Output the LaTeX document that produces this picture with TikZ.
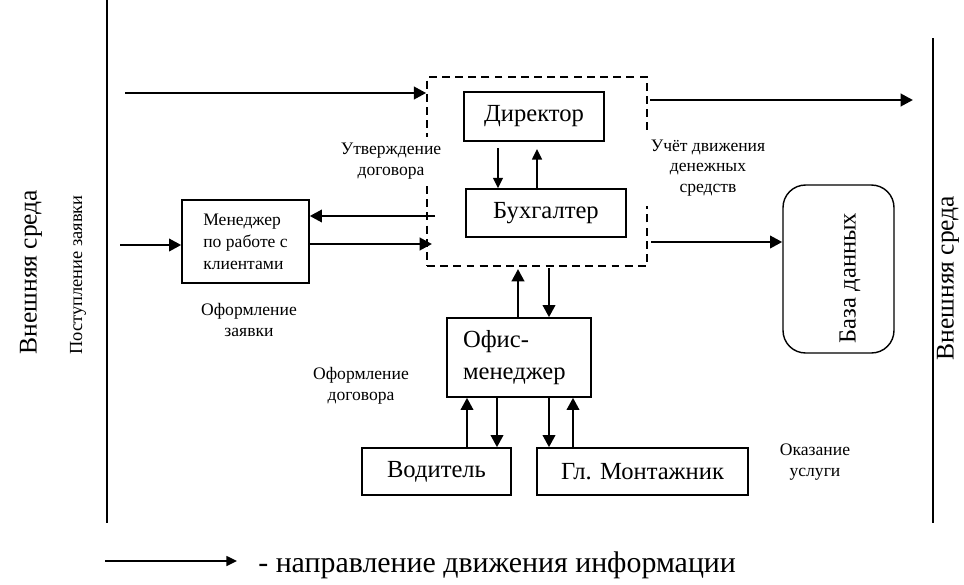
\documentclass[tikz,border=0pt]{standalone}
\usepackage{fontspec}
\setmainfont{Liberation Serif}
\usetikzlibrary{arrows.meta}

\tikzset{
    box/.style={draw, line width=0.8pt, inner sep=0pt, font=\fontsize{14}{17}\selectfont},
    note/.style={fill=white, align=center, inner sep=3.5pt, font=\fontsize{10}{12}\selectfont},
    flow/.style={line width=1.6pt, -{Triangle[length=7pt,width=7pt]}},
    thinflow/.style={line width=1.2pt, -{Triangle[length=6pt,width=5.5pt]}},
    border/.style={line width=1.6pt},
}

\begin{document}
\begin{tikzpicture}[x=0.02cm, y=-0.02cm]
    \useasboundingbox (0,0) rectangle (964,585);

    % environment borders
    \draw[border] (107,0) -- (107,523);
    \draw[border] (933,38) -- (933,523);
    \node[rotate=90, font=\fontsize{14.5}{17}\selectfont] (envL) at (31,272) {Внешняя среда};
    \node[rotate=90, font=\fontsize{14.5}{17}\selectfont] (envR) at (948,278) {Внешняя среда};
    \node[rotate=90, font=\fontsize{10.5}{12}\selectfont] (zayavka) at (78,275) {Поступление заявки};

    % management group
    \node[draw, dashed, dash pattern=on 4.5pt off 3pt, line width=0.9pt,
          minimum width=4.4cm, minimum height=3.78cm] (grp) at (537,171.5) {};
    \node[box, minimum width=2.8cm, minimum height=0.98cm] (dir) at (534,116.5) {Директор};
    \node[box, minimum width=3.2cm, minimum height=0.96cm] (buh) at (546,213) {Бухгалтер};

    \node[box, minimum width=2.54cm, minimum height=1.66cm, align=left,
          font=\fontsize{10}{12.5}\selectfont]
          (mgr) at (245.5,241.5) {Менеджер\\по работе с\\клиентами};
    \node[box, minimum width=2.88cm, minimum height=1.58cm, text width=2.24cm,
          inner xsep=0.32cm, align=left, font=\fontsize{14}{18}\selectfont]
          (ofis) at (519,357.5) {Офис-\\менеджер};
    \node[box, minimum width=2.98cm, minimum height=0.94cm] (vod) at (436.5,471.5) {Водитель};
    \node[box, minimum width=4.22cm, minimum height=0.94cm] (mont) at (642.5,471.5) {Гл. Монтажник};

    \node[draw, line width=0.8pt, rounded corners=0.45cm,
          minimum width=2.22cm, minimum height=3.36cm] (db) at (838.5,269) {};
    \node[rotate=90, font=\fontsize{14}{17}\selectfont] (dbtxt) at (850,278) {База данных};

    % labels
    \node[note] (utv) at (391,161) {Утверждение\\договора};
    \node[note, inner xsep=7pt, inner ysep=6pt, font=\fontsize{10}{11.5}\selectfont]
          (uchet) at (708,168) {Учёт движения\\денежных\\средств};
    \node[note] (ofZ) at (249,320) {Оформление\\заявки};
    \node[note] (ofD) at (361,386) {Оформление\\договора};
    \node[note] (usl) at (815,462) {Оказание\\услуги};

    % information flows
    \coordinate (inTop) at (125,93);
    \coordinate (outStart) at (650,100);
    \coordinate (outTop) at (913,100);
    \coordinate (inMgr) at (120,245);
    \coordinate (toMgr) at (435,216);
    \coordinate (fromMgr) at (432,244);
    \coordinate (toDb) at (651,242);
    \coordinate (dirDown) at (498,148);
    \coordinate (buhUp) at (537,149);
    \coordinate (ofUp) at (518,269);
    \coordinate (ofDown) at (549,268);

    \draw[flow] (inTop) -- (inTop -| grp.west);
    \draw[flow] (outStart) -- (outTop);
    \draw[flow] (inMgr) -- (inMgr -| mgr.west);
    \draw[flow] (toMgr) -- (toMgr -| mgr.east);
    \draw[flow] (fromMgr -| mgr.east) -- (fromMgr);
    \draw[flow] (toDb) -- (toDb -| db.west);
    \draw[thinflow] (dirDown) -- (dirDown |- buh.north);
    \draw[thinflow] (buhUp |- buh.north) -- (buhUp);
    \draw[flow] (ofUp |- ofis.north) -- (ofUp);
    \draw[flow] (ofDown) -- (ofDown |- ofis.north);

    \draw[flow] (467,0 |- vod.north) -- (467,0 |- ofis.south);
    \draw[flow] (497,0 |- ofis.south) -- (497,0 |- vod.north);
    \draw[flow] (549,0 |- ofis.south) -- (549,0 |- mont.north);
    \draw[flow] (573,0 |- mont.north) -- (573,0 |- ofis.south);

    % legend
    \coordinate (legA) at (105,561);
    \coordinate (legB) at (237,561);
    \draw[thinflow] (legA) -- (legB);
    \node[anchor=west, inner sep=0pt, font=\fontsize{17}{20}\selectfont] (leg) at (258,565)
          {- направление движения информации};
\end{tikzpicture}
\end{document}
